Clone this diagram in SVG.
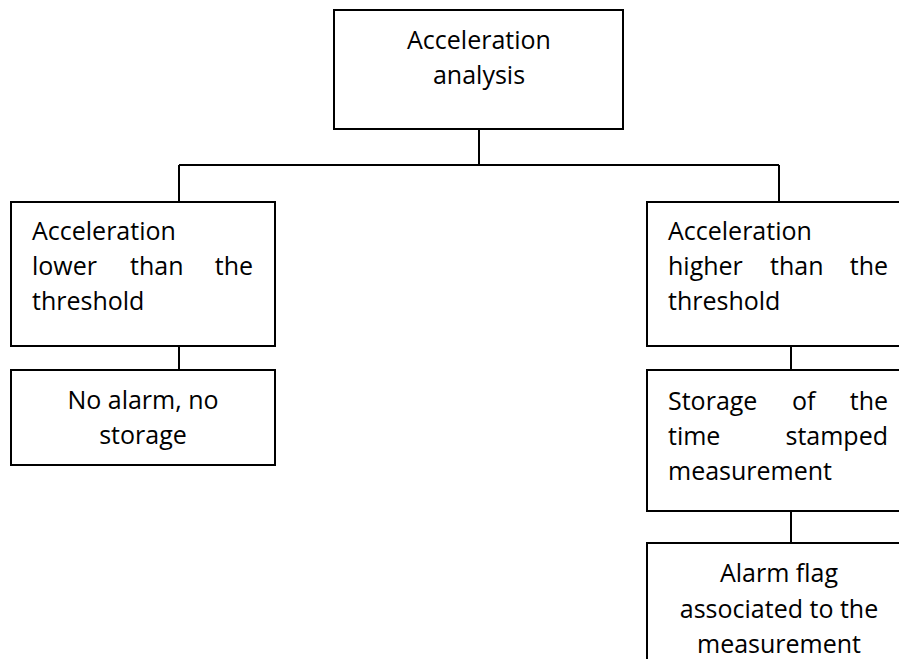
<svg xmlns="http://www.w3.org/2000/svg" width="899" height="659" viewBox="0 0 899 659">
<style>
.box{fill:#fff;stroke:#000;stroke-width:2}
.ln{fill:none;stroke:#000;stroke-width:2}
text{font-family:"Open Sans","Liberation Sans",sans-serif;font-size:25px;fill:#000}
.c{text-anchor:middle}
.e{text-anchor:end}
</style>
<rect width="899" height="659" fill="#fff"/>
<g id="connectors">
<path class="ln" d="M479 129V165M179 165H779M179 165V202M779 165V202M179 346V370M791 346V370M791 511V543"/>
</g>
<g id="root">
<rect class="box" x="334" y="10" width="289" height="119"/>
<text class="c" x="479" y="49">Acceleration</text>
<text class="c" x="479" y="84">analysis</text>
</g>
<g id="lower">
<rect class="box" x="11" y="202" width="264" height="144"/>
<text x="32" y="240">Acceleration</text>
<text x="32" y="275">lower</text>
<text x="130" y="275">than</text>
<text class="e" x="253" y="275">the</text>
<text x="32" y="310">threshold</text>
</g>
<g id="noalarm">
<rect class="box" x="11" y="370" width="264" height="95"/>
<text class="c" x="143" y="409">No alarm, no</text>
<text class="c" x="143" y="444">storage</text>
</g>
<g id="higher">
<rect class="box" x="647" y="202" width="264" height="144"/>
<text x="668" y="240">Acceleration</text>
<text x="668" y="275">higher</text>
<text x="770" y="275">than</text>
<text class="e" x="888" y="275">the</text>
<text x="668" y="310">threshold</text>
</g>
<g id="storage">
<rect class="box" x="647" y="370" width="264" height="141"/>
<text x="668" y="410">Storage</text>
<text x="792" y="410">of</text>
<text class="e" x="888" y="410">the</text>
<text x="668" y="445">time</text>
<text class="e" x="888" y="445">stamped</text>
<text x="668" y="480">measurement</text>
</g>
<g id="alarmflag">
<rect class="box" x="647" y="543" width="264" height="140"/>
<text class="c" x="779" y="582">Alarm flag</text>
<text class="c" x="779" y="618">associated to the</text>
<text class="c" x="779" y="653">measurement</text>
</g>
</svg>
